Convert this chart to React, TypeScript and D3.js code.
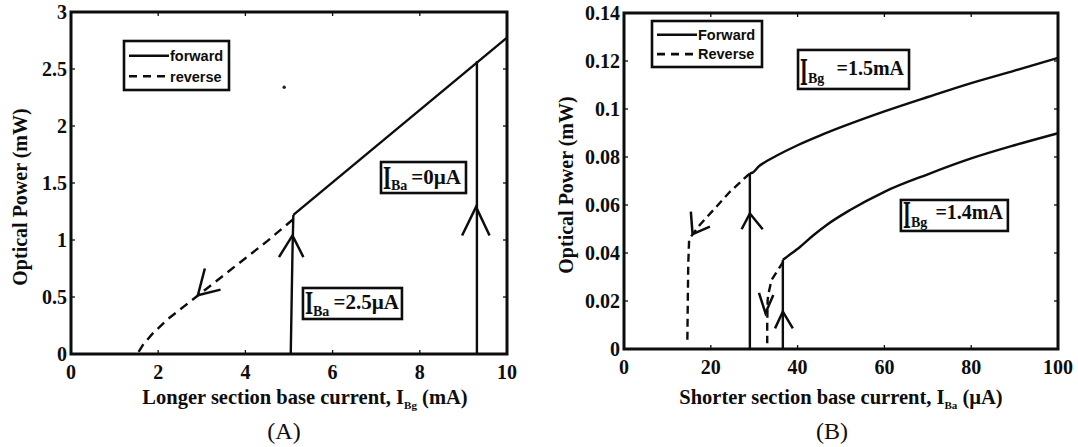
import React from "react";
import * as d3 from "d3";

type Pt = [number, number];

// ---------- Panel A data ----------
const aXTicks = [0, 2, 4, 6, 8, 10];
const aYTicks = [0, 0.5, 1, 1.5, 2, 2.5, 3];
const aForward: Pt[] = [[5.1, 1.22], [10, 2.775]];
const aRise1: Pt[] = [[5.04, 0], [5.08, 0.9], [5.1, 1.22]];
const aRise2: Pt[] = [[9.31, 0], [9.31, 2.567]];
const aReverse: Pt[] = [[5.09, 1.18], [4.5, 0.99], [4.0, 0.84], [3.5, 0.69], [3.0, 0.54], [2.6, 0.42], [2.2, 0.3], [1.85, 0.17], [1.65, 0.08], [1.52, 0]];
const aArrowRise1: Pt[] = [[4.77, 0.85], [5.08, 1.04], [5.33, 0.85]];
const aArrowRise2: Pt[] = [[8.97, 1.04], [9.29, 1.29], [9.6, 1.04]];
const aArrowReverse: Pt[] = [[3.07, 0.75], [2.91, 0.515], [3.43, 0.565]];
const aDot: Pt = [4.89, 2.34];
const aLegend = ["forward", "reverse"];
const aXTitle = ["Longer section base current, I", "Bg", " (mA)"];
const aPanelLabel = "(A)";

// ---------- Panel B data ----------
const bXTicks = [0, 20, 40, 60, 80, 100];
const bYTicks = [0, 0.02, 0.04, 0.06, 0.08, 0.1, 0.12, 0.14];
const bRiseUpper: Pt[] = [[29.0, 0], [29.0, 0.0732]];
const bForwardUpper: Pt[] = [[29.0, 0.0732], [29.65, 0.0735], [31, 0.076], [33, 0.0784], [35, 0.0804], [40, 0.0849], [45, 0.0888], [50, 0.0924], [60, 0.099], [70, 0.105], [80, 0.1108], [90, 0.116], [100, 0.1213]];
const bRiseLower: Pt[] = [[36.6, 0], [36.6, 0.0371]];
const bForwardLower: Pt[] = [[36.6, 0.0371], [37.1, 0.0378], [40.6, 0.0426], [43.5, 0.0472], [46.7, 0.0517], [52.1, 0.0579], [60, 0.0655], [70, 0.0728], [80, 0.0794], [90, 0.0849], [100, 0.0899]];
const bReverseUpper: Pt[] = [[29.0, 0.073], [28.6, 0.0725], [24.4, 0.0655], [20.6, 0.0579], [17.5, 0.0518], [16.0, 0.0482], [15.3, 0.0465], [15.0, 0.0454], [14.8, 0.035], [14.7, 0.02], [14.6, 0.0037]];
const bReverseLower: Pt[] = [[36.7, 0.0364], [35.5, 0.033], [34.0, 0.0288], [33.3, 0.0232], [33.1, 0.0204], [33.0, 0.01], [33.0, 0.0024]];
const bArrowRiseUpper: Pt[] = [[27.1, 0.0499], [29.0, 0.0565], [31.96, 0.0499]];
const bArrowRiseLower: Pt[] = [[34.8, 0.0086], [36.6, 0.0156], [38.9, 0.0086]];
const bArrowRevUpper: Pt[] = [[15.4, 0.0572], [15.8, 0.0479], [19.8, 0.051]];
const bArrowRevLower: Pt[] = [[31.1, 0.0234], [32.6, 0.0149], [34.4, 0.0225]];
const bLegend = ["Forward", "Reverse"];
const bXTitle = ["Shorter section base current, I", "Ba", " (\u00b5A)"];
const bPanelLabel = "(B)";

const SERIF = "'Liberation Serif', 'Times New Roman', serif";
const SANS = "'Liberation Sans', Arial, sans-serif";
const INK = "#0d0d0d";

type Note = { x: number; y: number; w: number; h: number; sub: string; rest: string; fs: number; iBot: number; iH: number; subBase: number; restBase: number; restEnd: number };

type PanelProps = {
  left: number; right: number; top: number; bottom: number;
  xMax: number; yMax: number; xTicks: number[]; yTicks: number[];
  solids: Pt[][]; dashes: Pt[][]; arrows: Pt[][]; smooth: Pt[][];
  legend: string[]; legendBox: [number, number, number, number];
  notes: Note[]; xTitle: string[]; xTitleX: number; panelLabel: string; panelLabelX: number;
  yTitleX: number; yTitleY: number; dot?: Pt; dash: string;
};

function Panel(p: PanelProps) {
  const x = d3.scaleLinear().domain([0, p.xMax]).range([p.left, p.right]);
  const y = d3.scaleLinear().domain([0, p.yMax]).range([p.bottom, p.top]);
  const line = d3.line<Pt>().x((d) => x(d[0])).y((d) => y(d[1]));
  const smoothLine = d3.line<Pt>().x((d) => x(d[0])).y((d) => y(d[1])).curve(d3.curveMonotoneX);
  const [lx, ly, lw, lh] = p.legendBox;
  const tl = 4;
  const sw = 2.4;
  return (
    <g>
      {p.smooth.map((s, i) => (
        <path key={"sm" + i} d={smoothLine(s) || ""} fill="none" stroke={INK} strokeWidth={sw} />
      ))}
      {p.solids.map((s, i) => (
        <path key={"s" + i} d={line(s) || ""} fill="none" stroke={INK} strokeWidth={sw} />
      ))}
      {p.dashes.map((s, i) => (
        <path key={"d" + i} d={line(s) || ""} fill="none" stroke={INK} strokeWidth={sw} strokeDasharray={p.dash} />
      ))}
      {p.arrows.map((s, i) => (
        <path key={"a" + i} d={line(s) || ""} fill="none" stroke={INK} strokeWidth={2.5} strokeLinejoin="miter" />
      ))}
      {p.dot && <circle cx={x(p.dot[0])} cy={y(p.dot[1])} r={1.7} fill="#222" />}
      {p.xTicks.map((t) => (
        <g key={"xt" + t}>
          <line x1={x(t)} x2={x(t)} y1={p.bottom} y2={p.bottom - tl} stroke={INK} strokeWidth={1.3} />
          <line x1={x(t)} x2={x(t)} y1={p.top} y2={p.top + tl} stroke={INK} strokeWidth={1.3} />
          <text x={x(t)} y={p.bottom + 25} textAnchor="middle" fontFamily={SERIF} fontWeight="bold" fontSize={20} fill={INK}>{String(t)}</text>
        </g>
      ))}
      {p.yTicks.map((t) => (
        <g key={"yt" + t}>
          <line x1={p.left} x2={p.left + tl} y1={y(t)} y2={y(t)} stroke={INK} strokeWidth={1.3} />
          <line x1={p.right} x2={p.right - tl} y1={y(t)} y2={y(t)} stroke={INK} strokeWidth={1.3} />
          <text x={p.left - 4} y={y(t)} dy="0.35em" textAnchor="end" fontFamily={SERIF} fontWeight="bold" fontSize={20} fill={INK}>{String(t)}</text>
        </g>
      ))}
      <rect x={p.left} y={p.top} width={p.right - p.left} height={p.bottom - p.top} fill="none" stroke={INK} strokeWidth={3} />
      <rect x={lx} y={ly} width={lw} height={lh} fill="#fff" stroke={INK} strokeWidth={2.6} />
      <line x1={lx + 5} x2={lx + 45} y1={ly + lh * 0.3} y2={ly + lh * 0.3} stroke={INK} strokeWidth={2.6} />
      <line x1={lx + 5} x2={lx + 45} y1={ly + lh * 0.72} y2={ly + lh * 0.72} stroke={INK} strokeWidth={2.6} strokeDasharray="8,6" />
      <text x={lx + 46} y={ly + lh * 0.3} dy="0.36em" fontFamily={SANS} fontWeight="bold" fontSize={14.5} fill={INK}>{p.legend[0]}</text>
      <text x={lx + 46} y={ly + lh * 0.72} dy="0.36em" fontFamily={SANS} fontWeight="bold" fontSize={14.5} fill={INK}>{p.legend[1]}</text>
      {p.notes.map((n, i) => {
        const bx = x(n.x), by = y(n.y);
        const sc = n.iH / (0.662 * n.fs);
        return (
          <g key={"n" + i}>
            <rect x={bx} y={by} width={n.w} height={n.h} fill="#fff" stroke={INK} strokeWidth={2.6} />
            <text transform={`translate(${bx + 2},${by + n.iBot}) scale(1,${sc})`} fontFamily={SERIF} fontWeight="bold" fontSize={n.fs} fill={INK}>I</text>
            <text x={bx + 10} y={by + n.subBase} fontFamily={SERIF} fontWeight="bold" fontSize={14} fill={INK}>{n.sub}</text>
            <text x={bx + n.restEnd} y={by + n.restBase} textAnchor="end" fontFamily={SERIF} fontWeight="bold" fontSize={n.fs} fill={INK}>{n.rest}</text>
          </g>
        );
      })}
      <text transform={`translate(${p.yTitleX},${p.yTitleY}) rotate(-90)`} textAnchor="middle" dy="0.35em" fontFamily={SERIF} fontWeight="bold" fontSize={20} fill={INK}>Optical Power (mW)</text>
      <text x={p.xTitleX} y={404} textAnchor="middle" fontFamily={SERIF} fontWeight="bold" fontSize={20.5} fill={INK}>
        {p.xTitle[0]}
        <tspan fontSize={11} dy={5}>{p.xTitle[1]}</tspan>
        <tspan dy={-5}>{p.xTitle[2]}</tspan>
      </text>
      <text x={p.panelLabelX} y={439} textAnchor="middle" fontFamily={SERIF} fontSize={24} fill={INK}>{p.panelLabel}</text>
    </g>
  );
}

export default function App() {
  return (
    <svg width={1078} height={447} viewBox="0 0 1078 447" style={{ position: "absolute", left: 0, top: 0, background: "#fff" }}>
      <rect x={0} y={0} width={1078} height={447} fill="#fff" />
      <Panel
        left={71} right={507} top={12} bottom={354} xMax={10} yMax={3}
        xTicks={aXTicks} yTicks={aYTicks}
        smooth={[]}
        solids={[aForward, aRise1, aRise2]}
        dashes={[aReverse]}
        arrows={[aArrowRise1, aArrowRise2, aArrowReverse]}
        dash="9,6"
        legend={aLegend} legendBox={[124, 41, 105, 49]}
        notes={[
          { x: 7.11, y: 1.684, w: 85, h: 31, sub: "Ba", rest: "=0\u00b5A", fs: 21, iBot: 27, iH: 22, subBase: 28, restBase: 22, restEnd: 80 },
          { x: 5.32, y: 0.579, w: 99, h: 31, sub: "Ba", rest: "=2.5\u00b5A", fs: 21, iBot: 26, iH: 22, subBase: 28, restBase: 21, restEnd: 96 },
        ]}
        xTitle={aXTitle} xTitleX={305} panelLabel={aPanelLabel} panelLabelX={284}
        yTitleX={20} yTitleY={197} dot={aDot}
      />
      <Panel
        left={624} right={1058} top={13} bottom={349} xMax={100} yMax={0.14}
        xTicks={bXTicks} yTicks={bYTicks}
        smooth={[bForwardUpper, bForwardLower]}
        solids={[bRiseUpper, bRiseLower]}
        dashes={[bReverseUpper, bReverseLower]}
        arrows={[bArrowRiseUpper, bArrowRiseLower, bArrowRevUpper, bArrowRevLower]}
        dash="8,5"
        legend={bLegend} legendBox={[652, 21, 110, 46]}
        notes={[
          { x: 40.1, y: 0.1246, w: 111, h: 39, sub: "Bg", rest: "=1.5mA", fs: 20, iBot: 35, iH: 26, subBase: 33, restBase: 25, restEnd: 106 },
          { x: 63.8, y: 0.0621, w: 107, h: 31, sub: "Bg", rest: "=1.4mA", fs: 20, iBot: 28, iH: 26, subBase: 27, restBase: 19, restEnd: 102 },
        ]}
        xTitle={bXTitle} xTitleX={841} panelLabel={bPanelLabel} panelLabelX={832}
        yTitleX={566} yTitleY={185}
      />
    </svg>
  );
}
